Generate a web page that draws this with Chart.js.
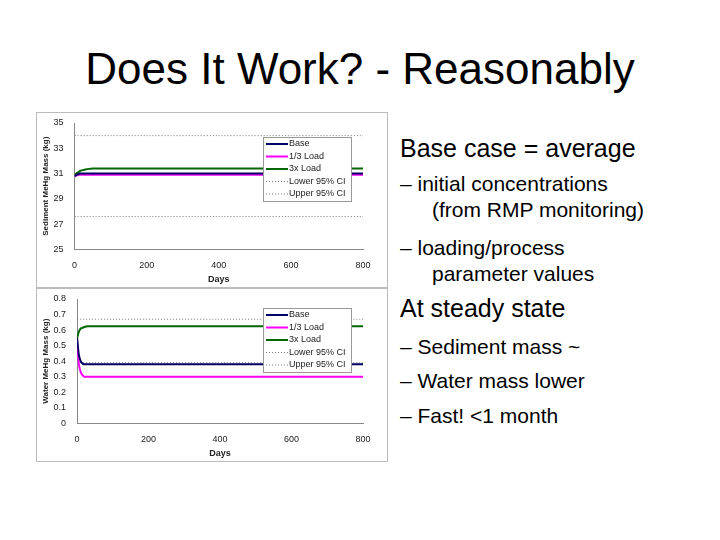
<!DOCTYPE html>
<html><head><meta charset="utf-8">
<script src="https://cdn.jsdelivr.net/npm/chart.js@4"></script>
<style>
body{margin:0;width:720px;height:540px;background:#fff;font-family:"Liberation Sans",Arial,sans-serif;position:relative;overflow:hidden}
h1{position:absolute;top:44px;left:0;width:720px;text-align:center;margin:0;font-weight:normal;font-size:44px;color:#000}
.box{position:absolute;left:36px;width:350px;border:1px solid #bbb;background:#fff}
.txt{position:absolute;left:400px;top:132px;font-size:25px;color:#000;line-height:1.3}
.l1{margin:0 0 6px 0}
.l2{font-size:21px;margin-left:0;padding-left:32px;text-indent:-32px;line-height:1.25;margin-bottom:12px}
</style></head><body>
<h1>Does It Work? - Reasonably</h1>
<div class="box" style="top:112px;height:174px"><canvas id="c1" width="350" height="174"></canvas></div>
<div class="box" style="top:288px;height:172px"><canvas id="c2" width="350" height="172"></canvas></div>
<div class="txt">
<div class="l1">Base case = average</div>
<div class="l2">– initial concentrations<br>(from RMP monitoring)</div>
<div class="l2" style="margin-bottom:4px">– loading/process<br>parameter values</div>
<div class="l1" style="margin-bottom:10px">At steady state</div>
<div class="l2" style="margin-bottom:8px">– Sediment mass ~</div>
<div class="l2" style="margin-bottom:8px">– Water mass lower</div>
<div class="l2">– Fast! &lt;1 month</div>
</div>
<script>
const days=[0,5,10,15,20,30,40,50,60,80,100,200,400,600,800];
const labels=["Base","1/3 Load","3x Load","Lower 95% CI","Upper 95% CI"];
const sedBase=[30.8,30.9,30.95,31.0,31.0,31.0,31.0,31.0,31.0,31.0,31.0,31.0,31.0,31.0,31.0];
const sedThird=[30.8,30.85,30.9,30.9,30.9,30.9,30.9,30.9,30.9,30.9,30.9,30.9,30.9,30.9,30.9];
const sedTriple=[30.8,31.0,31.1,31.2,31.25,31.32,31.37,31.4,31.4,31.4,31.4,31.4,31.4,31.4,31.4];
const sedLower=[34,34,34,34,34,34,34,34,34,34,34,34,34,34,34];
const sedUpper=[27.6,27.6,27.6,27.6,27.6,27.6,27.6,27.6,27.6,27.6,27.6,27.6,27.6,27.6,27.6];
const watBase=[0.55,0.44,0.40,0.385,0.38,0.38,0.38,0.38,0.38,0.38,0.38,0.38,0.38,0.38,0.38];
const watThird=[0.52,0.38,0.33,0.31,0.30,0.30,0.30,0.30,0.30,0.30,0.30,0.30,0.30,0.30,0.30];
const watTriple=[0.55,0.59,0.61,0.615,0.62,0.625,0.625,0.625,0.625,0.625,0.625,0.625,0.625,0.625,0.625];
const watLower=[0.39,0.39,0.39,0.39,0.39,0.39,0.39,0.39,0.39,0.39,0.39,0.39,0.39,0.39,0.39];
const watUpper=[0.67,0.67,0.67,0.67,0.67,0.67,0.67,0.67,0.67,0.67,0.67,0.67,0.67,0.67,0.67];
const colors=["#000066","#ff00ff","#006600","#777","#777"];
const pts=a=>a.map((v,i)=>({x:days[i],y:v}));
const legendBox={id:'legendBox',afterDatasetsDraw(ch,args,o){
 const c=ch.ctx,a=ch.chartArea,w=88,h=o.h,x=a.right-w-12,y=a.top+o.top;
 c.save();c.fillStyle='#fff';c.fillRect(x,y,w,h);c.strokeStyle='#999';c.lineWidth=1;c.strokeRect(x+.5,y+.5,w,h);
 c.font='9px "Liberation Sans",Arial';c.textBaseline='middle';
 labels.forEach((l,i)=>{const yy=y+7+i*(h-14)/4;c.strokeStyle=colors[i];c.lineWidth=i<3?2:1;c.setLineDash(i<3?[]:[1,2]);
 c.beginPath();c.moveTo(x+3,yy);c.lineTo(x+25,yy);c.stroke();c.fillStyle='#222';c.fillText(l,x+26,yy);});
 c.restore();}};
function make(id,sets,ymin,ymax,step,ytitle,lt){
 new Chart(document.getElementById(id),{type:'line',
 data:{datasets:sets.map((s,i)=>({data:pts(s),borderColor:colors[i],borderWidth:i<3?2:1,borderDash:i<3?[]:[1,2],pointRadius:0,tension:0.3,fill:false}))},
 options:{responsive:false,animation:false,layout:{padding:{left:4,right:24,top:10,bottom:2}},
 plugins:{legend:{display:false},tooltip:{enabled:false},legendBox:{top:lt,h:64}},
 scales:{x:{type:'linear',min:0,max:800,ticks:{stepSize:200,color:'#222',font:{size:9}},grid:{display:false},border:{color:'#888'},title:{display:true,text:'Days',font:{size:9,weight:'bold'},color:'#222',padding:0}},
 y:{min:ymin,max:ymax,ticks:{stepSize:step,color:'#222',font:{size:9}},grid:{display:false},border:{color:'#888'},title:{display:true,text:ytitle,font:{size:8,weight:'bold'},color:'#222',padding:0}}}},
 plugins:[legendBox]});}
make('c1',[sedBase,sedThird,sedTriple,sedLower,sedUpper],25,35,2,'Sediment MeHg Mass (kg)',14);
make('c2',[watBase,watThird,watTriple,watLower,watUpper],0,0.8,0.1,'Water MeHg Mass (kg)',9);
</script></body></html>
